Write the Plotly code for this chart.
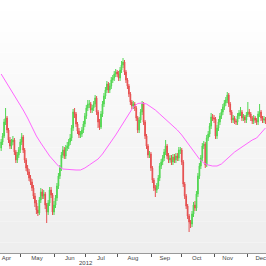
import plotly.graph_objects as go
import pandas as pd

# Trading days shown (weekdays), candles centred at mid-day
start_day = "2012-04-11"
end_day = "2012-12-19"
dates = pd.bdate_range(start_day, end_day) + pd.Timedelta(hours=12)

open_ = [105, 111, 117, 131, 135, 123, 113, 107, 111, 113, 101, 93, 98, 103, 111, 116, 103, 93, 85, 81,
         75, 71, 65, 57, 50, 43, 40, 53, 61, 57, 59, 48, 41, 50, 63, 58, 41, 48, 55, 67,
         77, 85, 98, 103, 97, 105, 107, 111, 115, 125, 141, 139, 129, 122, 118, 119, 123, 129, 137, 145,
         149, 149, 143, 145, 149, 155, 141, 131, 126, 139, 149, 157, 163, 169, 163, 167, 173, 175, 179, 181,
         179, 175, 183, 188, 191, 181, 173, 167, 159, 151, 147, 149, 145, 135, 123, 133, 141, 149, 131, 117,
         107, 98, 99, 85, 73, 65, 63, 67, 75, 87, 91, 95, 101, 107, 97, 93, 95, 91, 96, 93,
         97, 95, 103, 103, 91, 69, 57, 47, 37, 31, 29, 39, 48, 45, 59, 77, 87, 95, 107, 109,
         88, 115, 119, 127, 136, 135, 134, 117, 125, 131, 137, 141, 146, 150, 153, 158, 149, 141, 133, 135,
         132, 131, 137, 140, 141, 135, 136, 133, 138, 141, 139, 135, 132, 135, 133, 131, 139, 141, 135, 133,
         134]
close = [111, 117, 131, 135, 123, 113, 107, 111, 113, 101, 93, 98, 103, 111, 116, 103, 93, 85, 81, 75,
         71, 65, 57, 50, 43, 40, 53, 61, 57, 59, 48, 41, 50, 63, 58, 41, 48, 55, 67, 77,
         85, 98, 103, 97, 105, 107, 111, 115, 125, 141, 139, 129, 122, 118, 119, 123, 129, 137, 145, 149,
         149, 143, 145, 149, 155, 141, 131, 126, 139, 149, 157, 163, 169, 163, 167, 173, 175, 179, 181, 179,
         175, 183, 188, 191, 181, 173, 167, 159, 151, 147, 149, 145, 135, 123, 133, 141, 149, 131, 117, 107,
         98, 99, 85, 73, 65, 63, 67, 75, 87, 91, 95, 101, 107, 97, 93, 95, 91, 96, 93, 97,
         95, 103, 103, 91, 69, 57, 47, 37, 31, 29, 39, 48, 45, 59, 77, 87, 95, 107, 109, 88,
         115, 119, 127, 136, 135, 134, 117, 125, 131, 137, 141, 146, 150, 153, 158, 149, 141, 133, 135, 132,
         131, 137, 140, 141, 135, 136, 133, 138, 141, 139, 135, 132, 135, 133, 131, 139, 141, 135, 133, 134,
         132]
high = [114, 120, 134, 145, 137, 125, 116, 114, 117, 115, 103, 101, 106, 114, 120, 118, 105, 95, 88, 84,
        78, 74, 68, 60, 53, 47, 56, 65, 64, 63, 61, 50, 53, 66, 66, 60, 52, 58, 70, 80,
        88, 101, 107, 106, 108, 111, 114, 119, 128, 144, 145, 141, 131, 125, 122, 126, 132, 140, 148, 153,
        153, 151, 148, 152, 158, 157, 143, 134, 142, 152, 160, 166, 172, 171, 170, 176, 178, 182, 184, 183,
        182, 186, 192, 195, 193, 183, 175, 169, 161, 153, 152, 151, 147, 137, 136, 144, 152, 151, 133, 119,
        109, 102, 101, 87, 75, 68, 70, 78, 90, 94, 98, 104, 113, 109, 100, 98, 98, 99, 99, 100,
        100, 106, 106, 105, 93, 71, 59, 49, 39, 33, 42, 51, 52, 62, 80, 90, 98, 110, 112, 111,
        118, 122, 130, 140, 139, 138, 136, 128, 134, 140, 144, 149, 153, 156, 161, 160, 151, 143, 138, 137,
        134, 140, 143, 146, 143, 139, 138, 141, 151, 144, 141, 137, 138, 137, 135, 142, 149, 143, 137, 137,
        136]
low = [102, 108, 115, 128, 120, 110, 104, 104, 108, 98, 90, 90, 95, 100, 108, 100, 90, 82, 78, 72,
       68, 62, 54, 46, 39, 37, 38, 50, 54, 54, 44, 30, 38, 47, 55, 38, 38, 45, 52, 64,
       74, 82, 95, 94, 94, 102, 104, 108, 112, 122, 135, 126, 119, 115, 115, 116, 120, 126, 134, 142,
       145, 140, 140, 142, 146, 138, 125, 123, 124, 136, 146, 154, 160, 160, 160, 164, 170, 172, 176, 176,
       172, 172, 180, 185, 178, 170, 164, 156, 148, 144, 144, 142, 132, 120, 120, 130, 138, 128, 114, 104,
       95, 95, 82, 70, 62, 56, 60, 64, 72, 84, 88, 92, 98, 94, 90, 90, 88, 88, 90, 90,
       92, 92, 99, 88, 66, 54, 44, 34, 21, 25, 26, 36, 42, 42, 56, 74, 84, 92, 104, 85,
       86, 112, 116, 124, 132, 130, 114, 114, 122, 128, 134, 138, 143, 147, 150, 146, 138, 130, 130, 129,
       128, 128, 134, 137, 132, 132, 130, 130, 136, 136, 132, 129, 129, 130, 128, 128, 136, 132, 130, 130,
       129]

# moving average, read every third trading day
ma_values = [179, 172, 165, 157, 150, 143, 135, 126, 117, 110,
             103, 97, 92, 87, 84, 83.5, 83.5, 83, 83, 85,
             88, 91, 94, 99, 105, 112, 118, 125, 132, 138,
             146, 149.5, 150, 149, 146, 143, 139, 135, 132, 128,
             123, 118, 112, 106, 100, 94, 90, 88, 87, 87,
             89, 93, 98, 101, 104, 107, 110, 113, 115, 120, 125]
ma_dates = dates[::3]

# month boundaries (tick marks) and month labels (centred in each month)
month_starts = ["2012-05-01", "2012-06-01", "2012-07-02", "2012-08-01", "2012-09-03",
                "2012-10-01", "2012-11-01", "2012-12-03"]
month_label_pos = ["2012-04-17 00:00", "2012-05-15 22:00", "2012-06-15 07:00", "2012-07-16 10:00",
                   "2012-08-15 05:00", "2012-09-13 22:00", "2012-10-15 17:00", "2012-11-13 19:00",
                   "2012-12-14 07:00"]
month_labels = ["Apr", "May", "Jun", "Jul", "Aug", "Sep", "Oct", "Nov", "Dec"]
year_label = "2012"
year_pos = "2012-07-02"

x_range = ["2012-04-10 17:00", "2012-12-19 21:00"]
breaks = [dict(bounds=["sat", "mon"])]

fig = go.Figure()
fig.add_trace(go.Candlestick(
    x=dates, open=open_, high=high, low=low, close=close,
    increasing=dict(line=dict(color="#36d236", width=1), fillcolor="#36d236"),
    decreasing=dict(line=dict(color="#e43434", width=1), fillcolor="#e43434"),
    whiskerwidth=0, opacity=0.85, showlegend=False, hoverinfo="skip"))
fig.add_trace(go.Scatter(x=ma_dates, y=ma_values, mode="lines",
                         line=dict(color="#ff66ff", width=1), showlegend=False,
                         hoverinfo="skip"))
# invisible carrier for the label axis
fig.add_trace(go.Scatter(x=[dates[0]], y=[None], xaxis="x2", mode="markers",
                         showlegend=False, hoverinfo="skip"))

# vertical gradient background
shapes = []
n = 24
for k in range(n):
    t = k / (n - 1)
    v = int(round(238 + (255 - 238) * t))
    shapes.append(dict(type="rect", xref="paper", yref="paper",
                       x0=0, x1=1, y0=k / n, y1=(k + 1) / n,
                       fillcolor=f"rgb({v},{v},{v})", line=dict(width=0),
                       layer="below"))

fig.update_layout(
    width=266, height=266,
    margin=dict(l=0, r=0, t=0, b=13),
    paper_bgcolor="white", plot_bgcolor="white",
    shapes=shapes,
    font=dict(family="Liberation Sans", size=6, color="#444444"),
    xaxis=dict(
        type="date", range=x_range, rangebreaks=breaks,
        rangeslider=dict(visible=False),
        tickmode="array", tickvals=month_starts, showticklabels=False,
        ticks="outside", ticklen=3, tickcolor="#555555", tickwidth=1,
        showline=True, linecolor="#999999", linewidth=1,
        showgrid=False, zeroline=False,
    ),
    xaxis2=dict(
        type="date", range=x_range, rangebreaks=breaks,
        overlaying="x", side="bottom", anchor="y",
        tickmode="array", tickvals=month_label_pos, ticktext=month_labels,
        ticks="", showline=False, showgrid=False, zeroline=False,
        ticklabeloverflow="allow",
        tickfont=dict(size=6, color="#444444"),
    ),
    yaxis=dict(range=[0, 253], visible=False, showgrid=False, zeroline=False),
    annotations=[dict(text=year_label, x=year_pos, xref="x",
                      y=-0.039, yref="paper", yanchor="middle",
                      showarrow=False, font=dict(size=6, color="#444444"))],
)

fig.write_html("out.html")
